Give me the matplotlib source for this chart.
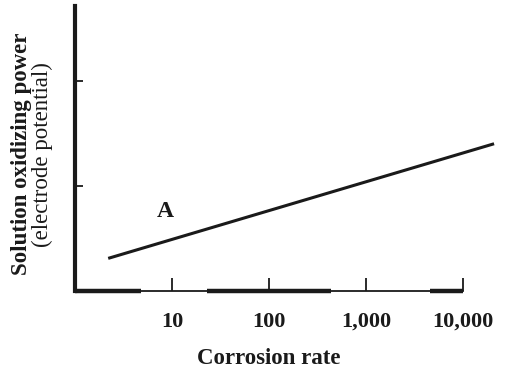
# corrosion rate vs solution oxidizing power sketch

import matplotlib
matplotlib.use("Agg")
import matplotlib.pyplot as plt

# line A (corrosion rate on log scale, potential in arbitrary units)
line_x = [2.2, 21000]
line_y = [0.31, 1.40]
label_a = "A"
label_a_pos = (8.5, 0.76)

x_ticks = [10, 100, 1000, 10000]
x_tick_labels = ["10", "100", "1,000", "10,000"]
y_ticks = [1, 2]

serif = ["Liberation Serif", "DejaVu Serif"]
ink = "#1a1a1a"

fig = plt.figure(figsize=(5.05, 3.74), dpi=100)
ax = fig.add_axes([0.1485, 0.222, 0.768, 0.762])

ax.plot(line_x, line_y, color=ink, lw=2.2, clip_on=False, solid_capstyle="butt")
ax.text(*label_a_pos, label_a, family=serif, fontsize=17, fontweight="bold",
        color=ink, ha="center", va="center")

ax.set_xscale("log")
ax.set_xlim(1, 10000)
ax.set_ylim(0, 2.71)
ax.set_xticks(x_ticks)
ax.set_xticklabels(x_tick_labels, family=serif, fontsize=16, fontweight="bold", color=ink)
ax.minorticks_off()
ax.set_yticks(y_ticks)
ax.set_yticklabels([])
ax.tick_params(axis="x", direction="in", length=9.5, width=1.3, pad=15, color=ink)
ax.tick_params(axis="y", direction="in", length=6, width=1.3, color=ink)

for side in ["top", "right"]:
    ax.spines[side].set_visible(False)
ax.spines["left"].set_linewidth(3)
ax.spines["bottom"].set_linewidth(1.3)
ax.spines["left"].set_color(ink)
ax.spines["bottom"].set_color(ink)

# thicker bits of the scanned x axis
for x0, x1 in [(0.0, 0.17), (0.34, 0.66), (0.915, 1.0)]:
    ax.plot([x0, x1], [0, 0], transform=ax.transAxes, color=ink, lw=3.2,
            clip_on=False, solid_capstyle="butt")

ax.set_xlabel("Corrosion rate", family=serif, fontsize=16.5, fontweight="bold",
              color=ink, labelpad=12)

fig.text(0.042, 0.588, "Solution oxidizing power", family=serif, fontsize=16.5,
         fontweight="bold", color=ink, rotation=90, ha="center", va="center")
fig.text(0.084, 0.588, "(electrode potential)", family=serif, fontsize=16.5,
         color=ink, rotation=90, ha="center", va="center")

fig.savefig("out.png", dpi=100)
